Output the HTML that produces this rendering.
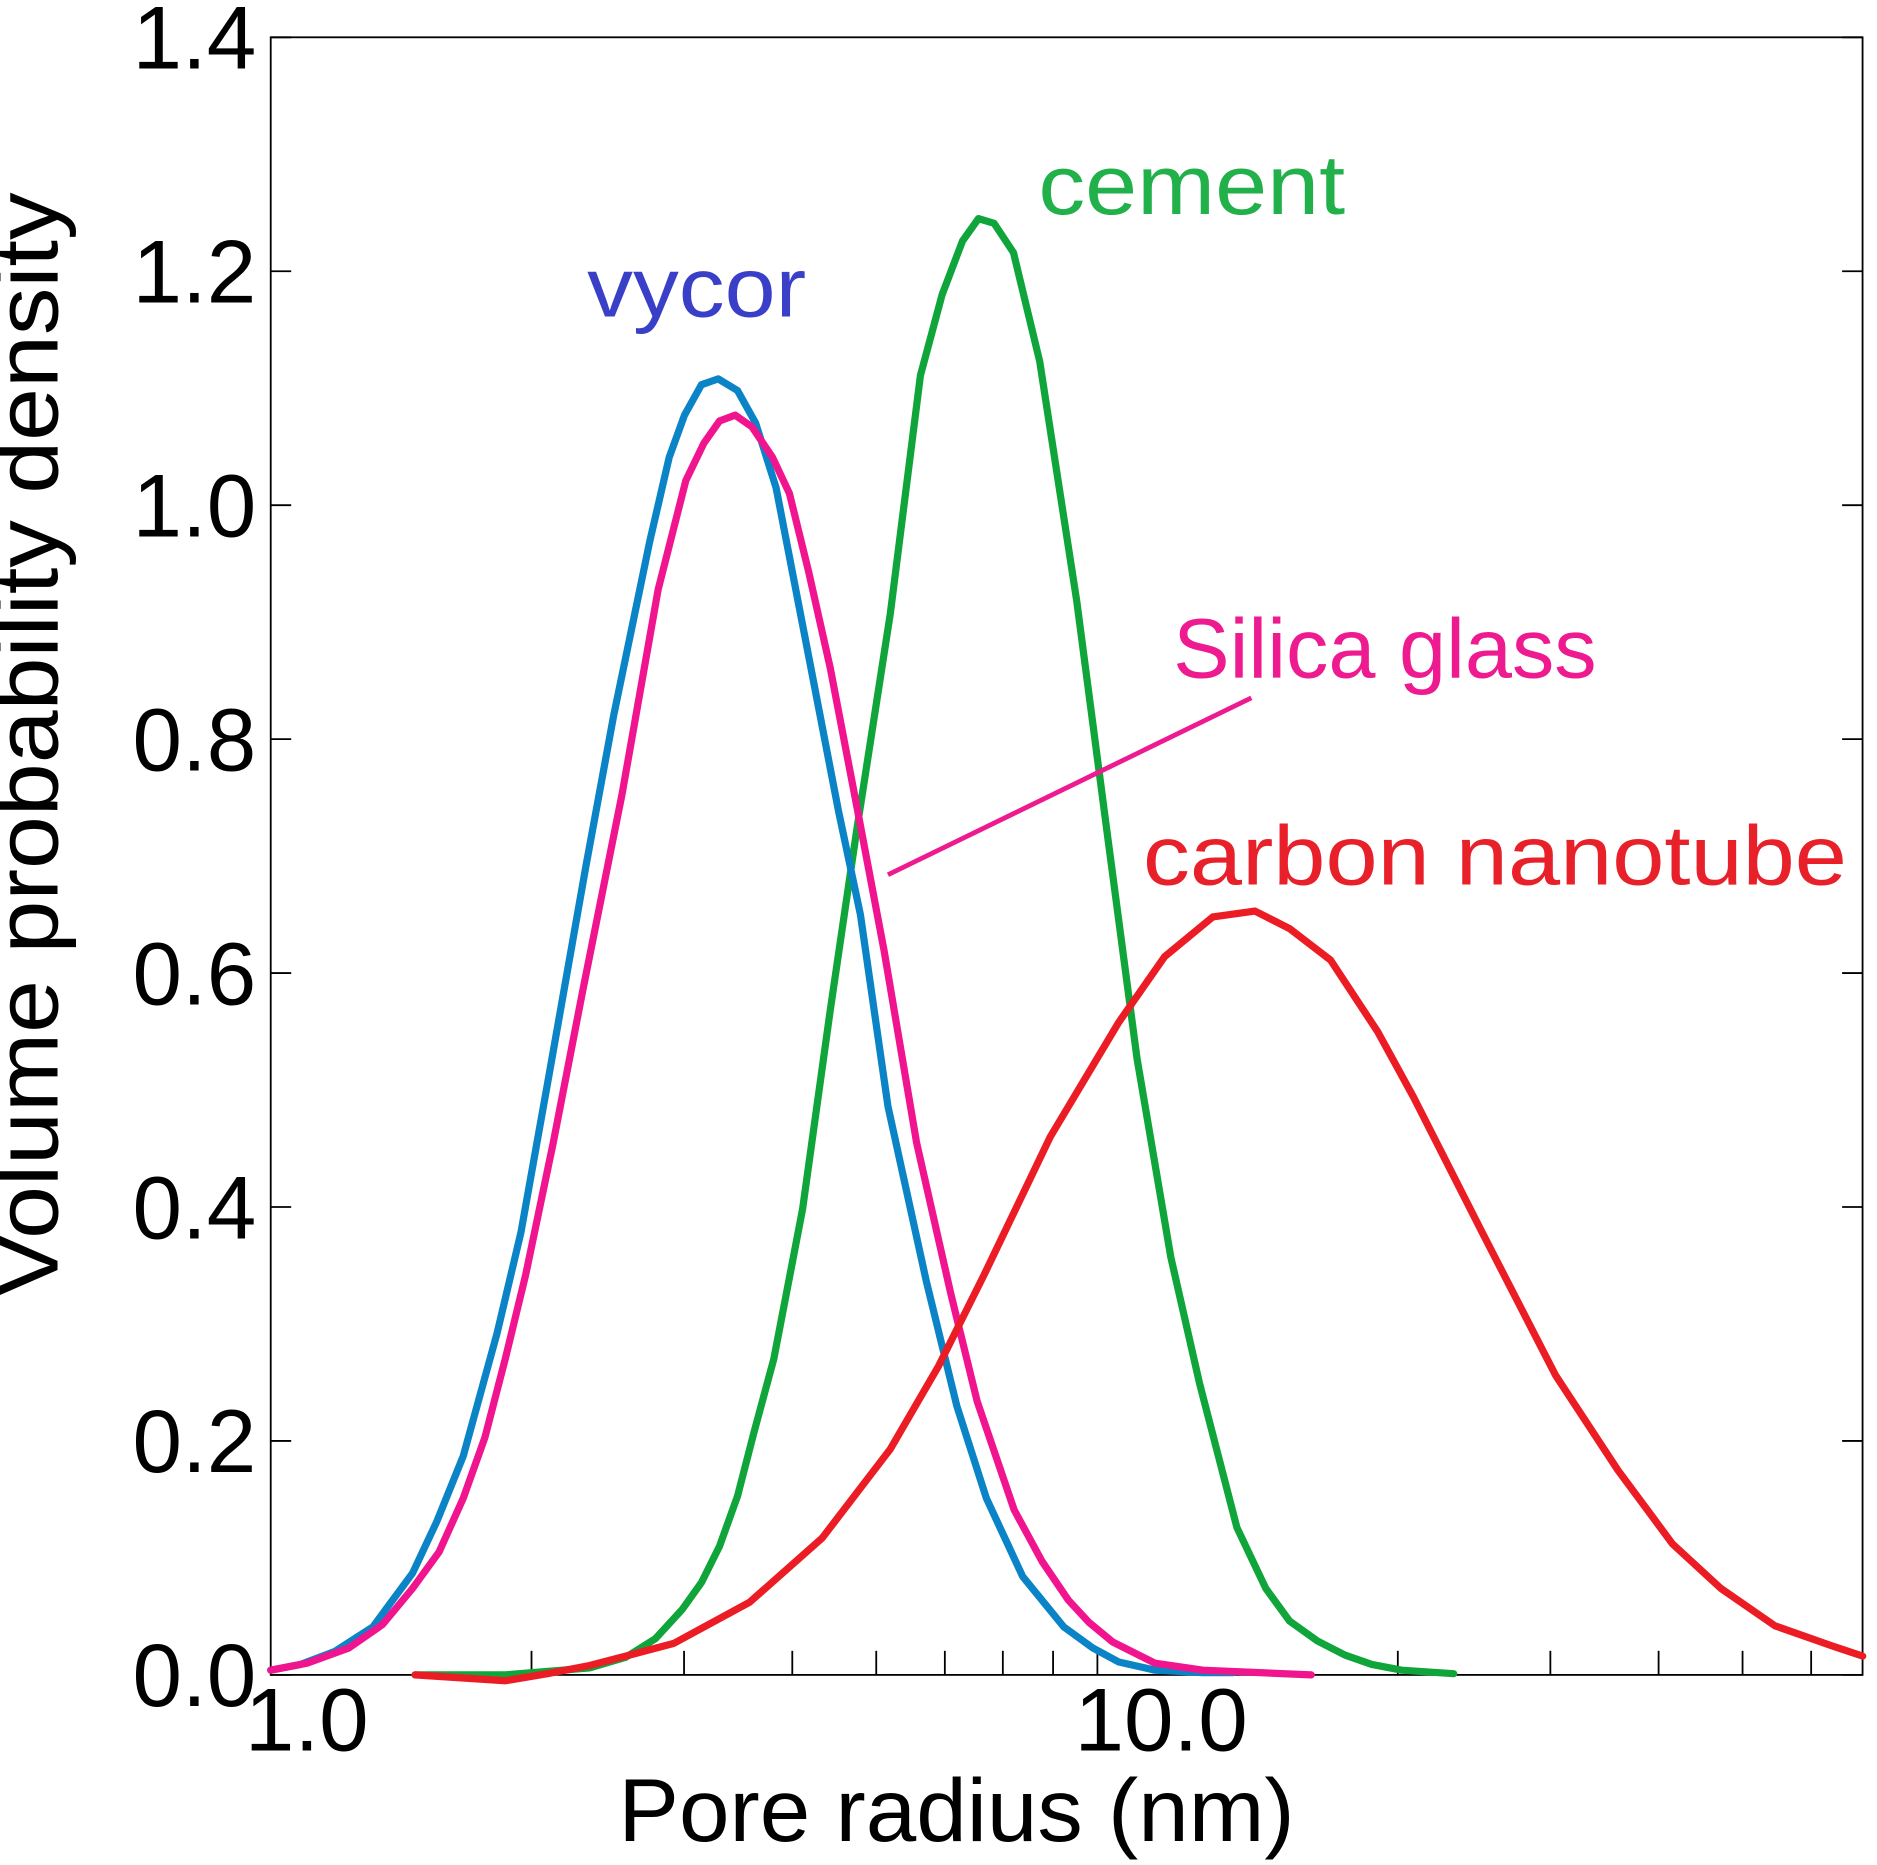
<!DOCTYPE html>
<html><head><meta charset="utf-8"><style>html,body{margin:0;padding:0;background:#fff}svg{display:block}</style></head>
<body>
<svg id="chart" width="1877" height="1865" viewBox="0 0 1560 1550" preserveAspectRatio="none" xmlns="http://www.w3.org/2000/svg" font-family="'Liberation Sans', sans-serif">
<rect x="225" y="31" width="1323" height="1361" fill="none" stroke="#000" stroke-width="1.5"/>
<g id="axes"></g>
<g id="series"></g>
<text x="48" y="619" transform="rotate(-90 48 619)" text-anchor="middle" font-size="74" textLength="918" lengthAdjust="spacingAndGlyphs">Volume probability density</text>
<text x="795" y="1530" text-anchor="middle" font-size="74" textLength="562" lengthAdjust="spacingAndGlyphs">Pore radius (nm)</text>
<text x="488" y="263" font-size="70" fill="#3a3fc8" textLength="182" lengthAdjust="spacingAndGlyphs">vycor</text>
<text x="863" y="178" font-size="70" fill="#22b04b" textLength="255" lengthAdjust="spacingAndGlyphs">cement</text>
<text x="975" y="563" font-size="70" fill="#ee1a8f" textLength="352" lengthAdjust="spacingAndGlyphs">Silica glass</text>
<text x="950" y="735" font-size="70" fill="#e8202a" textLength="585" lengthAdjust="spacingAndGlyphs">carbon nanotube</text>
<line x1="738" y1="727" x2="1040" y2="580" stroke="#ee1a8f" stroke-width="4"/>
</svg>
<script>
const yTicks = [0.0, 0.2, 0.4, 0.6, 0.8, 1.0, 1.2, 1.4];
const yTickLabels = ["0.0","0.2","0.4","0.6","0.8","1.0","1.2","1.4"];
const xMinorTicks = [2,3,4,5,6,7,8,9,20,30,40,50,60];
const xMajorTicks = [1, 10];
const xTickLabels = ["1.0","10.0"];
const vycorX = [1.00,1.083,1.185,1.312,1.458,1.555,1.668,1.825,1.944,2.093,2.311,2.488,2.738,2.884,3.004,3.142,3.285,3.459,3.630,3.831,4.150,4.525,4.794,5.158,5.714,6.194,6.70,7.38,8.23,8.89,9.53,10.49,11.92,12.91];
const vycorY = [.004,.009,.020,.041,.087,.131,.187,.292,.378,.511,.691,.820,.969,1.041,1.077,1.103,1.108,1.098,1.070,1.015,.882,.738,.650,.486,.336,.230,.151,.084,.041,.023,.011,.004,.002,.002];
const silicaX = [1.00,1.101,1.231,1.346,1.458,1.564,1.668,1.767,1.865,1.969,2.119,2.296,2.544,2.80,3.014,3.162,3.297,3.437,3.593,3.795,3.970,4.178,4.424,4.747,5.106,5.566,6.095,6.537,7.215,7.77,8.33,8.80,9.38,10.49,11.92,15.89];
const silicaY = [.004,.010,.023,.043,.074,.105,.151,.203,.270,.342,.455,.588,.753,.928,1.021,1.053,1.072,1.077,1.067,1.041,1.010,.943,.861,.743,.619,.455,.326,.234,.141,.097,.064,.045,.028,.010,.004,0];
const cementX = [1.468,1.865,2.334,2.569,2.78,2.985,3.142,3.297,3.459,3.614,3.808,4.111,4.424,4.747,5.19,5.623,5.957,6.29,6.56,6.84,7.20,7.72,8.52,9.23,10.0,10.94,11.81,13.04,14.08,15.0,16.15,17.38,18.66,20.21,23.2];
const cementY = [0,0,.006,.015,.031,.056,.079,.110,.153,.208,.270,.398,.568,.722,.907,1.111,1.180,1.226,1.245,1.241,1.216,1.123,.918,.722,.527,.357,.249,.126,.074,.046,.029,.017,.009,.004,.001];
const cntX = [1.468,1.865,2.086,2.334,2.569,2.919,3.57,4.33,5.19,5.90,6.66,7.94,9.53,10.76,12.23,13.68,15.0,16.73,18.95,20.85,25.04,30.42,35.9,41.5,47.2,54.5,63.3,68.8];
const cntY = [0,-.005,.001,.008,.016,.027,.062,.117,.193,.264,.342,.460,.558,.614,.648,.653,.638,.611,.550,.494,.378,.256,.175,.112,.074,.042,.025,.016];

const L=225,R=1548,T=31,B=1392,DEC=720;
function xs(v){return L+Math.log10(v)*DEC;}
function ys(v){return B-v/1.4*(B-T);}
const NS="http://www.w3.org/2000/svg";
function mk(tag,attrs,parent){const e=document.createElementNS(NS,tag);for(const k in attrs)e.setAttribute(k,attrs[k]);parent.appendChild(e);return e;}
const axes=document.getElementById('axes');
yTicks.forEach((t,i)=>{
  const y=ys(t);
  const a=mk('line',{x1:L,y1:y,x2:L+17,y2:y,stroke:'#000','stroke-width':1.5},axes);
  
  
  const b=mk('line',{x1:R-17,y1:y,x2:R,y2:y,stroke:'#000','stroke-width':1.5},axes);
  
  
  const tx=mk('text',{x:213,y:y+26,'text-anchor':'end','font-size':74},axes);
  tx.textContent=yTickLabels[i];
  
  
});
xMinorTicks.forEach(t=>{
  const x=xs(t);
  const a=mk('line',{x1:x,y1:B,x2:x,y2:B-20,stroke:'#000','stroke-width':1.5},axes);
  
  
});
xMajorTicks.forEach((t,i)=>{
  const x=xs(t);
  const tx=mk('text',{x:x+(i===0?30:20),y:1455,'text-anchor':'middle','font-size':74},axes);
  tx.textContent=xTickLabels[i];
  
  
});
const ser=document.getElementById('series');
function line(X,Y,color,name){
  const d=X.map((x,i)=>(i?'L':'M')+xs(x).toFixed(1)+','+ys(Y[i]).toFixed(1)).join(' ');
  const p=mk('path',{d:d,fill:'none',stroke:color,'stroke-width':6,'stroke-linejoin':'round','stroke-linecap':'round'},ser);
  
  
}
line(cementX,cementY,'#10a53a','cement-line');
line(vycorX,vycorY,'#0a84c6','vycor-line');
line(silicaX,silicaY,'#f0158f','silica-glass-line');
line(cntX,cntY,'#ec1c24','carbon-nanotube-line');
</script>
</body></html>
